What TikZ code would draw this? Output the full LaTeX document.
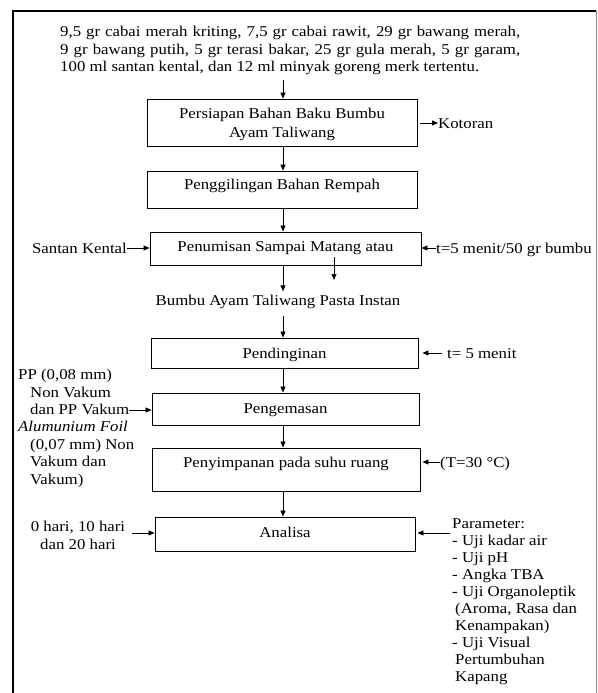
\documentclass[tikz,border=0pt]{standalone}
\usepackage{fontspec}
\setmainfont{Liberation Serif}[FakeStretch=1.12]
\usepackage{tikz}
\usetikzlibrary{arrows.meta, positioning, calc}

\begin{document}
\begin{tikzpicture}[
      x=1pt, y=-1pt,
      font=\fontsize{15}{17.4}\selectfont,
      stepbox/.style={draw, line width=0.9pt, inner sep=0pt, align=center, text height=11pt},
      side/.style={inner sep=0pt, text height=12pt, text depth=1pt},
      block/.style={inner sep=0pt, align=left},
      flow/.style={line width=0.8pt, -{Triangle[length=6pt,width=5pt]}}
    ]
      \useasboundingbox (0,0) rectangle (597,693);
      \draw[line width=1.6pt] (13,693) -- (13,11) -- (596,11);
      \draw[line width=0.8pt, black!45] (596,11) -- (596,693);
      \coordinate (spine) at (283,0);

      \node[inner sep=0pt, align=justify, text width=460pt, anchor=north west] (ingr) at (60,26)
        {9,5 gr cabai merah kriting, 7,5 gr cabai rawit, 29 gr bawang merah,\linebreak
         9 gr bawang putih, 5 gr terasi bakar, 25 gr gula merah, 5 gr garam,\linebreak
         100 ml santan kental, dan 12 ml minyak goreng merk tertentu.};

      \node[draw, line width=0.9pt, inner sep=0pt, align=center, minimum width=270pt, minimum height=47pt] (prep) at (282,122.5)
        {\rule{0pt}{14pt}Persiapan Bahan Baku Bumbu\\[1.5pt] Ayam Taliwang};
      \node[stepbox, minimum width=270pt, minimum height=37pt, text depth=11pt] (grind) at (282,189.5)
        {Penggilingan Bahan Rempah};
      \node[stepbox, minimum width=271pt, minimum height=33pt, text depth=5pt] (saute) at (285.5,248.5)
        {Penumisan Sampai Matang atau};
      \node[side] (paste) at (278,300) {Bumbu Ayam Taliwang Pasta Instan};
      \node[stepbox, minimum width=267pt, minimum height=30pt, text depth=0.5pt] (cool) at (284.5,353)
        {Pendinginan};
      \node[stepbox, minimum width=267pt, minimum height=32pt, text depth=2pt] (pack) at (285.5,409)
        {Pengemasan};
      \node[stepbox, minimum width=268pt, minimum height=43pt, text depth=15pt] (store) at (286,469.5)
        {Penyimpanan pada suhu ruang};
      \node[stepbox, minimum width=260pt, minimum height=34pt, text depth=4pt] (test) at (285,534)
        {Analisa};

      \node[side, anchor=west] (waste) at (438,123) {Kotoran};
      \node[side, anchor=east] (milk) at (127,248) {Santan Kental};
      \node[side, anchor=west] (tsaute) at (436,248) {t=5 menit/50 gr bumbu};
      \node[side, anchor=west] (tcool) at (447,353) {t= 5 menit};
      \node[side, anchor=west] (temp) at (440,462) {(T=30 °C)};
      \node[block, anchor=north west] (film) at (18,369)
        {PP (0,08 mm)\\
         \hspace*{12pt}Non Vakum\\
         \hspace*{12pt}dan PP Vakum\\
         \textit{Alumunium Foil}\\
         \hspace*{12pt}(0,07 mm) Non\\
         \hspace*{12pt}Vakum dan\\
         \hspace*{12pt}Vakum)};
      \node[inner sep=0pt, align=center, anchor=north] (days) at (78,521)
        {0 hari, 10 hari\\ dan 20 hari};
      \node[block, anchor=north west, font=\fontsize{15}{17}\selectfont] (param) at (452,518)
        {Parameter:\\
         - Uji kadar air\\
         - Uji pH\\
         - Angka TBA\\
         - Uji Organoleptik\\
         \hspace*{3pt}(Aroma, Rasa dan\\
         \hspace*{3pt}Kenampakan)\\
         - Uji Visual\\
         \hspace*{3pt}Pertumbuhan\\
         \hspace*{3pt}Kapang};
      \coordinate (filmend) at (129,410);
      \coordinate (daysend) at (132,533);
      \coordinate (paramend) at (450,533);
      \coordinate (sautex) at (334,280);

      \draw[flow] (ingr.south -| spine) ++(0,5) -- (prep.north -| spine);
      \draw[flow] (prep.south -| spine) -- (grind.north -| spine);
      \draw[flow] (grind.south -| spine) -- (saute.north -| spine);
      \draw[flow] (saute.south -| spine) -- ([yshift=2pt]paste.north -| spine);
      \draw[flow] ([yshift=8pt]saute.south -| sautex) -- (sautex);
      \draw[flow] ([yshift=-9pt]paste.south -| spine) -- (cool.north -| spine);
      \draw[flow] (cool.south -| spine) -- (pack.north -| spine);
      \draw[flow] (pack.south -| spine) -- (store.north -| spine);
      \draw[flow] (store.south -| spine) -- (test.north -| spine);

      \draw[flow] ([xshift=3pt]waste.west -| prep.east) -- (waste.west);
      \draw[flow] (milk.east) -- (milk.east -| saute.west);
      \draw[flow] (tsaute.west) -- (tsaute.west -| saute.east);
      \draw[flow] ([xshift=-5pt]tcool.west) -- ([xshift=4pt]tcool.west -| cool.east);
      \draw[flow] (temp.west) -- ([xshift=2pt]temp.west -| store.east);
      \draw[flow] (filmend) -- (filmend -| pack.west);
      \draw[flow] (daysend) -- (daysend -| test.west);
      \draw[flow] (paramend) -- ([xshift=2pt]paramend -| test.east);
    \end{tikzpicture}
\end{document}
